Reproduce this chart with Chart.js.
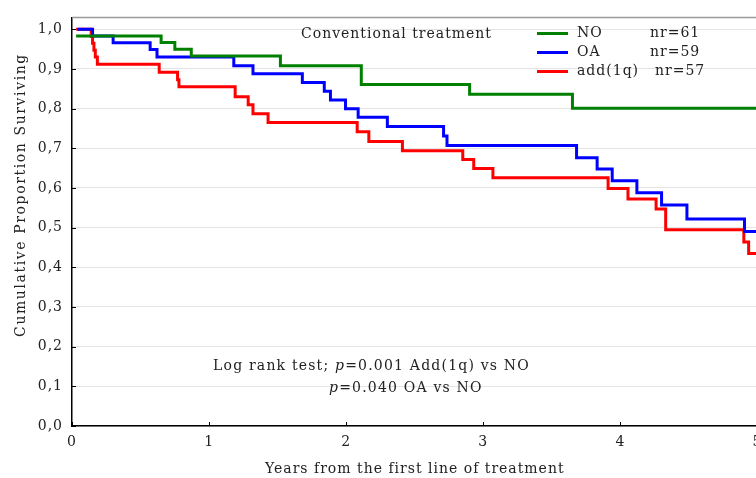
<!DOCTYPE html>
<html>
<head>
<meta charset="utf-8">
<script src="https://cdn.jsdelivr.net/npm/chart.js@4/dist/chart.umd.min.js"></script>
<style>
html,body{margin:0;padding:0;background:#fff;overflow:hidden;width:756px;height:478px;}
#wrap{width:770px;height:478px;}
</style>
</head>
<body>
<div id="wrap"><canvas id="c" width="770" height="478"></canvas></div>
<script>
// ---- data ----
const seriesNames = ['NO', 'OA', 'add(1q)'];
const seriesN = ['nr=61', 'nr=59', 'nr=57'];
const seriesColors = ['#008000', '#0000ff', '#ff0000'];

const noTimes  = [0.03, 0.65, 0.75, 0.87, 1.52, 2.11, 2.90, 3.65, 5.0];
const noSurv   = [0.983, 0.967, 0.950, 0.933, 0.908, 0.861, 0.836, 0.801, 0.801];

const oaTimes  = [0.04, 0.15, 0.30, 0.57, 0.62, 1.18, 1.32, 1.68, 1.84, 1.885, 1.995, 2.087, 2.30, 2.71, 2.735, 3.68, 3.83, 3.94, 4.12, 4.30, 4.485, 4.905, 5.0];
const oaSurv   = [1.0, 0.983, 0.966, 0.949, 0.930, 0.908, 0.888, 0.866, 0.844, 0.822, 0.800, 0.778, 0.755, 0.731, 0.707, 0.676, 0.648, 0.618, 0.588, 0.557, 0.522, 0.490, 0.490];

const addTimes = [0.03, 0.14, 0.15, 0.16, 0.17, 0.185, 0.636, 0.77, 0.78, 1.19, 1.285, 1.32, 1.43, 2.08, 2.165, 2.41, 2.85, 2.93, 3.07, 3.91, 4.055, 4.26, 4.33, 4.90, 4.935, 5.0];
const addSurv  = [1.0, 0.982, 0.965, 0.947, 0.930, 0.912, 0.892, 0.873, 0.855, 0.830, 0.810, 0.787, 0.765, 0.742, 0.717, 0.694, 0.672, 0.649, 0.626, 0.599, 0.572, 0.547, 0.495, 0.464, 0.435, 0.435];

const xTicks = [0, 1, 2, 3, 4, 5];
const yTicks = [0, 0.1, 0.2, 0.3, 0.4, 0.5, 0.6, 0.7, 0.8, 0.9, 1.0];

const xTitle = 'Years from the first line of treatment';
const yTitle = 'Cumulative Proportion Surviving';
const groupTitle = 'Conventional treatment';
const testLine1 = ['Log rank test; ', 'p', '=0.001 Add(1q) vs NO'];
const testLine2 = ['p', '=0.040 OA vs NO'];

// ---- chart ----
const FONT = '"DejaVu Serif", "Liberation Serif", serif';
const toPts = (t, s) => t.map((x, i) => ({x: x, y: s[i]}));
const allTimes = [noTimes, oaTimes, addTimes];
const allSurv = [noSurv, oaSurv, addSurv];

const spacing = {
  id: 'spacing',
  beforeDraw(chart) { chart.ctx.letterSpacing = '1px'; }
};

const decor = {
  id: 'decor',
  afterDraw(chart) {
    const ctx = chart.ctx;
    const a = chart.chartArea;
    const xs = chart.scales.x, ys = chart.scales.y;
    ctx.save();
    ctx.letterSpacing = '1px';
    // top frame line
    ctx.strokeStyle = '#9a9a9a';
    ctx.lineWidth = 1.5;
    ctx.beginPath(); ctx.moveTo(a.left, a.top); ctx.lineTo(a.right + 20, a.top); ctx.stroke();
    // inside ticks
    ctx.strokeStyle = '#000';
    ctx.lineWidth = 1;
    xTicks.forEach(v => {
      const px = Math.round(xs.getPixelForValue(v)) + 0.5;
      ctx.beginPath(); ctx.moveTo(px, a.bottom); ctx.lineTo(px, a.bottom - 4); ctx.stroke();
    });
    yTicks.forEach(v => {
      const py = Math.round(ys.getPixelForValue(v)) + 0.5;
      ctx.beginPath(); ctx.moveTo(a.left, py); ctx.lineTo(a.left + 4, py); ctx.stroke();
    });
    // y title
    ctx.fillStyle = '#222';
    ctx.save();
    ctx.letterSpacing = '1.6px';
    ctx.font = '14px ' + FONT;
    ctx.translate(21, 195);
    ctx.rotate(-Math.PI / 2);
    ctx.textAlign = 'center'; ctx.textBaseline = 'middle';
    ctx.fillText(yTitle, 0, 0);
    ctx.restore();
    // group title
    ctx.textAlign = 'left'; ctx.textBaseline = 'middle';
    ctx.font = '14px ' + FONT;
    ctx.fillText(groupTitle, 301, 34);
    // legend
    chart.data.datasets.forEach((ds, i) => {
      const y = 33.5 + i * 19;
      ctx.strokeStyle = ds.borderColor;
      ctx.lineWidth = 3;
      ctx.beginPath(); ctx.moveTo(537, y); ctx.lineTo(568, y); ctx.stroke();
      ctx.fillStyle = '#222';
      ctx.fillText(ds.label, 577, y);
      ctx.fillText(seriesN[i], i === 2 ? 655 : 650, y);
    });
    // test text
    const drawParts = (parts, x, y, italicIdx) => {
      parts.forEach((p, i) => {
        ctx.font = (italicIdx.includes(i) ? 'italic ' : '') + '14px ' + FONT;
        ctx.fillText(p, x, y);
        x += ctx.measureText(p).width;
      });
    };
    ctx.letterSpacing = '1.2px';
    drawParts(testLine1, 213, 366, [1]);
    drawParts(testLine2, 329, 388, [0]);
    ctx.restore();
  }
};

new Chart(document.getElementById('c'), {
  type: 'line',
  data: {
    datasets: seriesNames.map((name, i) => ({
      label: name,
      data: toPts(allTimes[i], allSurv[i]),
      borderColor: seriesColors[i],
      backgroundColor: seriesColors[i],
      borderWidth: 3,
      pointRadius: 0,
      stepped: 'before',
      fill: false,
      tension: 0
    }))
  },
  options: {
    responsive: false,
    animation: false,
    layout: {padding: {top: 13, right: 12, left: 0, bottom: 0}},
    plugins: {legend: {display: false}, tooltip: {enabled: false}},
    scales: {
      x: {
        type: 'linear',
        min: 0, max: 5,
        afterBuildTicks: s => { s.ticks = xTicks.map(v => ({value: v})); },
        afterFit: s => { s.height = 52; },
        grid: {display: false, drawTicks: false},
        border: {display: true, color: '#000', width: 1.5},
        ticks: {color: '#222', padding: 8, font: {family: FONT, size: 14}, maxRotation: 0, autoSkip: false,
                 callback: v => String(v)},
        title: {display: true, text: xTitle, color: '#222', font: {family: FONT, size: 14}, padding: {top: 5, bottom: 0}}
      },
      y: {
        type: 'linear',
        min: 0, max: 1.03,
        afterBuildTicks: s => { s.ticks = yTicks.map(v => ({value: v})); },
        afterFit: s => { s.width = 72; },
        grid: {color: '#e4e4e4', lineWidth: 1, drawTicks: false},
        border: {display: true, color: '#000', width: 1.5},
        ticks: {color: '#222', padding: 9, font: {family: FONT, size: 14}, autoSkip: false,
                 callback: v => v.toFixed(1).replace('.', ',')}
      }
    }
  },
  plugins: [spacing, decor]
});
</script>
</body>
</html>
